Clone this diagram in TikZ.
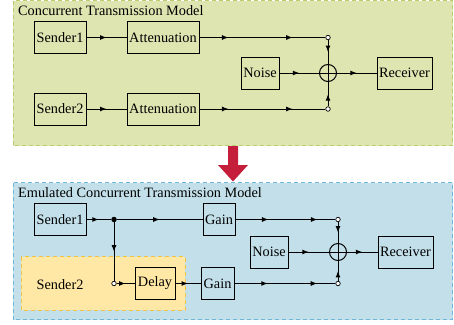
\documentclass[tikz,border=0pt]{standalone}
\usepackage{fontspec}
\setmainfont{Liberation Serif}
\usetikzlibrary{decorations.markings,arrows.meta}
\definecolor{panelgreen}{HTML}{DEE5B1}
\definecolor{edgegreen}{HTML}{B9CC6E}
\definecolor{panelblue}{HTML}{C3E0EA}
\definecolor{edgeblue}{HTML}{6DB8DA}
\definecolor{panelorange}{HTML}{FFE8A6}
\definecolor{edgeorange}{HTML}{F2C349}
\definecolor{bigred}{HTML}{C41E3A}
\tikzset{
  blk/.style={draw, line width=1pt, minimum height=32pt, inner sep=1pt},
  sumnode/.style={draw, circle, minimum size=17pt, inner sep=0pt, line width=1pt,
    path picture={\draw[line width=1pt] (path picture bounding box.north) -- (path picture bounding box.south)
      (path picture bounding box.west) -- (path picture bounding box.east);}},
  port/.style={draw, circle, fill=white, inner sep=0pt, minimum size=4.5pt, line width=0.7pt},
  splitdot/.style={fill, circle, inner sep=0pt, minimum size=5.5pt},
  wire/.style={line width=1pt, postaction={decorate},
    decoration={markings, mark=at position 0.5 with {\arrow{Latex[length=6.5pt,width=5pt]}}}},
  wire2/.style 2 args={line width=1pt, postaction={decorate},
    decoration={markings, mark=at position #1 with {\arrow{Latex[length=6.5pt,width=5pt]}},
      mark=at position #2 with {\arrow{Latex[length=6.5pt,width=5pt]}}}},
  panel/.style={dash pattern=on 4pt off 3pt, line width=0.8pt},
}
\begin{document}
\begin{tikzpicture}[x=1pt, y=-1pt, font=\fontsize{14.3}{16}\selectfont]
    \useasboundingbox (0,0) rectangle (454,324);
    % original model
    \draw[panel, draw=edgegreen, fill=panelgreen] (13,0.5) rectangle (452.5,145.5);
    \node[anchor=west, inner sep=0pt] (title1) at (18,11) {Concurrent Transmission Model};
    \node[blk, minimum width=52pt] (snd1) at (60,37.5) {Sender1};
    \node[blk, minimum width=72pt] (att1) at (163,37.5) {Attenuation};
    \node[port] (p1) at (328,37.5) {};
    \node[blk, minimum width=38pt] (noise1) at (260,73) {Noise};
    \node[sumnode] (sum1) at (328,73) {};
    \node[blk, minimum width=55pt] (rcv1) at (404.5,73) {Receiver};
    \node[blk, minimum width=52pt] (snd2) at (60,109) {Sender2};
    \node[blk, minimum width=72pt] (att2) at (163,109) {Attenuation};
    \node[port] (p2) at (328,109) {};
    \draw[wire] (snd1) -- (att1);
    \draw[wire2={0.23}{0.74}] (att1) -- (p1);
    \draw[wire] (snd2) -- (att2);
    \draw[wire2={0.23}{0.74}] (att2) -- (p2);
    \draw[wire] (p1) -- (sum1);
    \draw[wire] (p2) -- (sum1);
    \draw[wire] (noise1) -- (sum1);
    \draw[wire] (sum1) -- (rcv1);
    % big arrow
    \fill[bigred] (228,146) -- (238,146) -- (238,165) -- (248,165) -- (233,181.5) -- (218,165) -- (228,165) -- cycle;
    % emulated model
    \draw[panel, draw=edgeblue, fill=panelblue] (13,182.5) rectangle (452.5,319.5);
    \draw[panel, draw=edgeorange, fill=panelorange] (21,256.5) rectangle (185,310);
    \node[anchor=west, inner sep=0pt] (title2) at (18,192.5) {Emulated Concurrent Transmission Model};
    \node[blk, minimum width=52pt] (esnd1) at (60,219.5) {Sender1};
    \node[splitdot] (split) at (114,219.5) {};
    \node[blk, minimum width=32pt] (gain1) at (219,219.5) {Gain};
    \node[port] (q1) at (338,219.5) {};
    \node[blk, minimum width=38pt] (enoise) at (269,252) {Noise};
    \node[sumnode] (sum2) at (338,252) {};
    \node[blk, minimum width=55pt] (ercv) at (405.5,252) {Receiver};
    \node (esnd2) at (60,285) {Sender2};
    \node[port] (q0) at (114,283.5) {};
    \node[blk, minimum width=40pt] (delay) at (155,283.5) {Delay};
    \node[blk, minimum width=33pt] (gain2) at (217.5,283.5) {Gain};
    \node[port] (q2) at (338,283.5) {};
    \draw[wire] (esnd1) -- (split);
    \draw[wire] (split) -- (gain1);
    \draw[wire] (split) -- (q0);
    \draw[wire] (q0) -- (delay);
    \draw[wire] (delay) -- (gain2);
    \draw[wire2={0.33}{0.82}] (gain1) -- (q1);
    \draw[wire2={0.33}{0.82}] (gain2) -- (q2);
    \draw[wire] (q1) -- (sum2);
    \draw[wire] (q2) -- (sum2);
    \draw[wire] (enoise) -- (sum2);
    \draw[wire] (sum2) -- (ercv);
\end{tikzpicture}
\end{document}
